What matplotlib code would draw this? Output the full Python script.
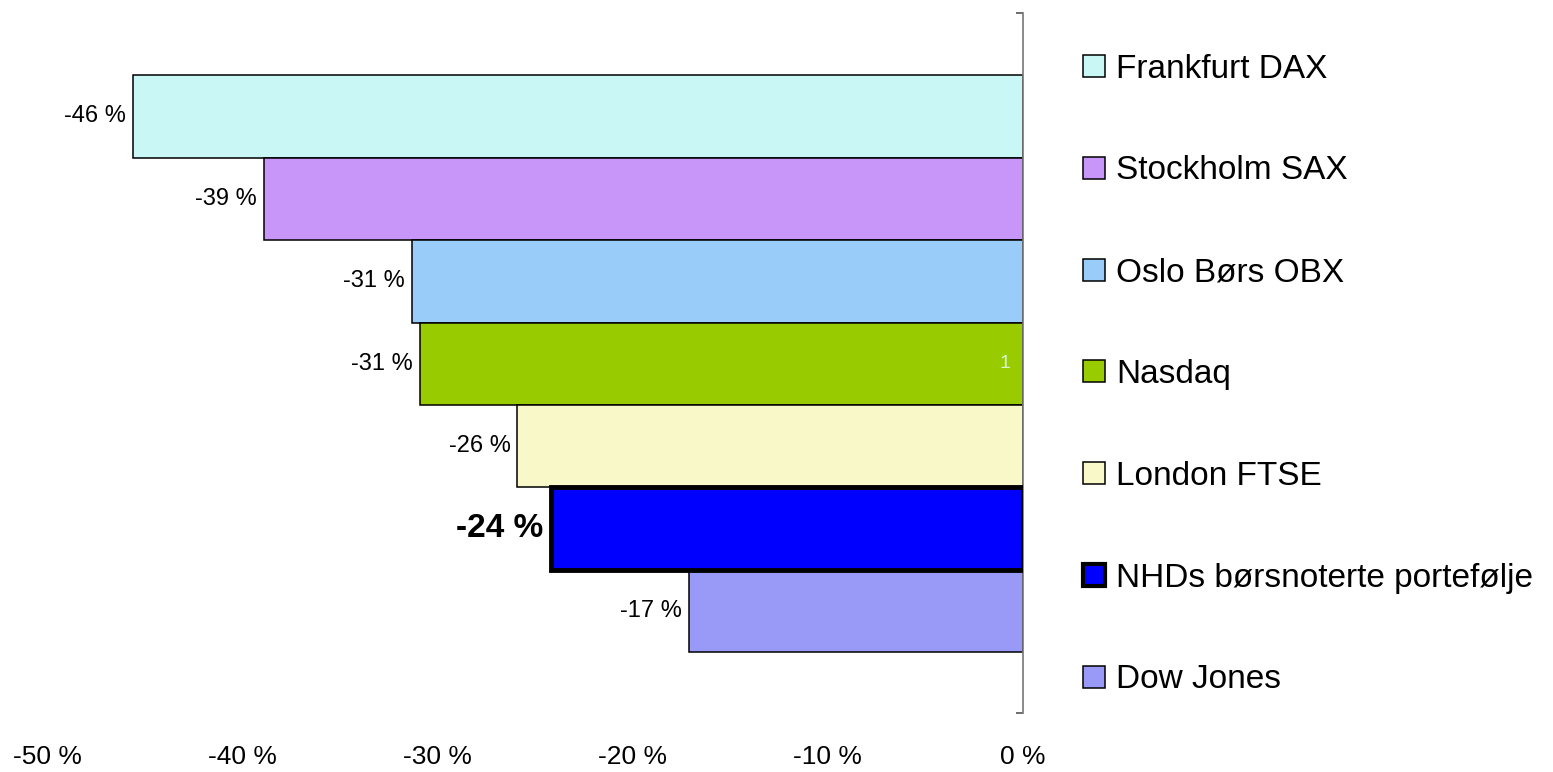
import matplotlib
matplotlib.use('Agg')
from matplotlib import pyplot as plt
from matplotlib.patches import Rectangle

plt.rcParams['font.family'] = ['Liberation Sans', 'DejaVu Sans']

names = ['Frankfurt DAX', 'Stockholm SAX', 'Oslo Børs OBX', 'Nasdaq',
         'London FTSE', 'NHDs børsnoterte portefølje', 'Dow Jones']
values = [-45.6, -38.9, -31.3, -30.9, -25.9, -24.2, -17.1]
colors = ['#C8F7F5', '#C896F8', '#99CCF8', '#99CC00', '#F8F8C8', '#0000FF', '#9999F8']
xticks = [-50, -40, -30, -20, -10, 0]
highlight = 'NHDs børsnoterte portefølje'

W, H = 1553, 772
fig = plt.figure(figsize=(W / 100, H / 100), dpi=100)
ax = fig.add_axes([47 / W, (H - 713) / H, (1023 - 47) / W, 700 / H])

for i, (v, c, name) in enumerate(zip(values, colors, names)):
    bold = name == highlight
    ax.barh(i, v, height=1.0, color=c, edgecolor='black',
            linewidth=3.5 if bold else 1.1, zorder=3 if bold else 2)
    ax.annotate(f'{v:.0f} %', (v, i), xytext=(-5, 0), textcoords='offset points',
                ha='right', va='center',
                fontsize=24 if bold else 17,
                fontweight='bold' if bold else 'normal')

# small stray label inside the Nasdaq bar
ax.annotate('1', (0, 3), xytext=(-13, 0), textcoords='offset points',
            ha='center', va='center', fontsize=14, color='#D8F5D0')

ax.set_xlim(-50, 0)
ax.set_ylim(7.236, -1.2545)
ax.set_xticks(xticks)
ax.set_xticklabels([f'{t} %' for t in xticks], fontsize=19)
ax.tick_params(axis='x', length=0, pad=23)
ax.yaxis.tick_right()
ax.set_yticks([-1.2545, 7.236])
ax.set_yticklabels(['', ''])
ax.tick_params(axis='y', direction='in', length=5, width=1.2, color='#555555')
for s in ['left', 'top', 'bottom']:
    ax.spines[s].set_visible(False)
ax.spines['right'].set_color('#777777')
ax.spines['right'].set_linewidth(1.2)

# legend on the right
for i, (name, c) in enumerate(zip(names, colors)):
    yc = 66 + i * 101.8
    bold = name == highlight
    fig.patches.append(Rectangle((1083 / W, (H - yc - 11) / H), 22 / W, 22 / H,
                                 transform=fig.transFigure, facecolor=c,
                                 edgecolor='black', linewidth=3 if bold else 1.1))
    fig.text(1116 / W, (H - yc - 3) / H, name, fontsize=24, va='center', ha='left')

plt.savefig('out.png', dpi=100)
